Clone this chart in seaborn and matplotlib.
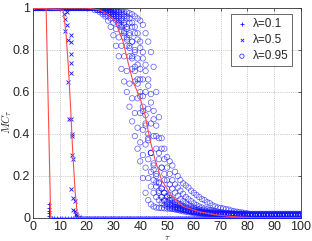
import matplotlib
matplotlib.use("Agg")
import matplotlib.pyplot as plt
import numpy as np
import pandas as pd
import seaborn as sns

# lambda = 0.1 ('+' markers)
plus_tau = [1, 2, 3, 4, 5, 6, 6, 6, 6, 6] + list(range(7, 101))
plus_mc = [1.0, 1.0, 1.0, 1.0, 1.0, 0.065, 0.05, 0.035, 0.025, 0.01] + [0.0] * 94

# lambda = 0.5 ('x' markers)
cross_tau = list(range(1, 11)) + [
    11, 11.5, 12, 12.5, 12.5, 12, 13, 14, 14, 14, 14, 14, 13, 13.5, 14,
    14.5, 14.5, 14.5, 15, 14, 15, 15.5, 15, 15.5, 16, 16, 16.5, 17,
] + list(range(17, 101))
cross_mc = [1.0] * 10 + [
    1.0, 0.97, 0.95, 0.98, 0.92, 0.89, 0.85, 0.87, 0.84, 0.78, 0.74, 0.69, 0.65, 0.47, 0.47,
    0.40, 0.39, 0.30, 0.28, 0.14, 0.095, 0.08, 0.04, 0.035, 0.02, 0.015, 0.01, 0.005,
] + [0.0] * 84

# lambda = 0.95 ('o' markers), ten trials, values for tau = 22..80
circ_trials = [
    [1.0, 0.99, 0.99, 0.98, 0.97, 0.96, 0.94, 0.91, 0.87, 0.82,
     0.77, 0.71, 0.65, 0.60, 0.53, 0.46, 0.39, 0.33, 0.27, 0.19,
     0.12, 0.085, 0.065, 0.055, 0.05, 0.048, 0.047, 0.046, 0.045, 0.044,
     0.043, 0.042, 0.041, 0.04, 0.038, 0.036, 0.034, 0.032, 0.03, 0.029,
     0.028, 0.027, 0.026, 0.025, 0.024, 0.023, 0.022, 0.021, 0.02, 0.02,
     0.019, 0.019, 0.018, 0.018, 0.017, 0.017, 0.016, 0.016, 0.015],
    [1.0, 1.0, 0.99, 0.99, 0.98, 0.97, 0.96, 0.95, 0.93, 0.90,
     0.86, 0.82, 0.77, 0.70, 0.64, 0.57, 0.50, 0.43, 0.36, 0.30,
     0.24, 0.19, 0.15, 0.12, 0.10, 0.085, 0.072, 0.062, 0.055, 0.05,
     0.045, 0.041, 0.038, 0.035, 0.032, 0.03, 0.028, 0.026, 0.024, 0.022,
     0.021, 0.02, 0.019, 0.018, 0.017, 0.016, 0.015, 0.015, 0.014, 0.014,
     0.013, 0.013, 0.012, 0.012, 0.012, 0.011, 0.011, 0.011, 0.01],
    [1.0, 1.0, 1.0, 0.99, 0.99, 0.98, 0.98, 0.97, 0.96, 0.94,
     0.92, 0.89, 0.86, 0.82, 0.77, 0.71, 0.65, 0.57, 0.50, 0.42,
     0.35, 0.28, 0.22, 0.18, 0.15, 0.12, 0.10, 0.085, 0.075, 0.065,
     0.058, 0.052, 0.047, 0.043, 0.04, 0.037, 0.034, 0.031, 0.029, 0.027,
     0.025, 0.024, 0.023, 0.022, 0.021, 0.02, 0.019, 0.018, 0.018, 0.017,
     0.017, 0.016, 0.016, 0.015, 0.015, 0.015, 0.014, 0.014, 0.014],
    [1.0, 1.0, 1.0, 1.0, 0.99, 0.99, 0.98, 0.97, 0.96, 0.95,
     0.93, 0.91, 0.88, 0.85, 0.81, 0.76, 0.70, 0.64, 0.58, 0.51,
     0.44, 0.37, 0.31, 0.26, 0.21, 0.17, 0.14, 0.12, 0.10, 0.085,
     0.072, 0.062, 0.054, 0.047, 0.042, 0.038, 0.034, 0.031, 0.028, 0.026,
     0.024, 0.022, 0.021, 0.02, 0.019, 0.018, 0.017, 0.016, 0.016, 0.015,
     0.015, 0.014, 0.014, 0.013, 0.013, 0.013, 0.012, 0.012, 0.012],
    [1.0, 1.0, 1.0, 1.0, 1.0, 0.99, 0.99, 0.98, 0.98, 0.97,
     0.96, 0.95, 0.93, 0.91, 0.88, 0.84, 0.79, 0.73, 0.66, 0.58,
     0.49, 0.40, 0.31, 0.23, 0.17, 0.13, 0.10, 0.08, 0.068, 0.06,
     0.055, 0.05, 0.047, 0.044, 0.041, 0.038, 0.035, 0.032, 0.03, 0.028,
     0.026, 0.025, 0.024, 0.023, 0.022, 0.021, 0.02, 0.02, 0.019, 0.019,
     0.018, 0.018, 0.017, 0.017, 0.016, 0.016, 0.016, 0.015, 0.015],
    [1.0, 1.0, 1.0, 0.99, 0.99, 0.99, 0.98, 0.98, 0.97, 0.96,
     0.95, 0.94, 0.92, 0.90, 0.87, 0.84, 0.80, 0.76, 0.71, 0.66,
     0.60, 0.52, 0.45, 0.39, 0.33, 0.28, 0.24, 0.21, 0.18, 0.16,
     0.14, 0.12, 0.105, 0.09, 0.08, 0.07, 0.062, 0.055, 0.05, 0.045,
     0.041, 0.038, 0.035, 0.032, 0.03, 0.028, 0.026, 0.025, 0.024, 0.023,
     0.022, 0.021, 0.02, 0.02, 0.019, 0.019, 0.018, 0.018, 0.017],
    [1.0, 1.0, 1.0, 1.0, 1.0, 1.0, 0.99, 0.99, 0.99, 0.98,
     0.98, 0.97, 0.96, 0.95, 0.93, 0.91, 0.88, 0.85, 0.81, 0.76,
     0.70, 0.63, 0.55, 0.47, 0.39, 0.31, 0.24, 0.18, 0.14, 0.11,
     0.09, 0.075, 0.064, 0.056, 0.05, 0.045, 0.041, 0.037, 0.034, 0.031,
     0.029, 0.027, 0.025, 0.024, 0.023, 0.022, 0.021, 0.02, 0.02, 0.019,
     0.019, 0.018, 0.018, 0.017, 0.017, 0.017, 0.016, 0.016, 0.016],
    [1.0, 1.0, 1.0, 1.0, 1.0, 1.0, 1.0, 0.99, 0.99, 0.99,
     0.98, 0.98, 0.97, 0.96, 0.95, 0.93, 0.91, 0.88, 0.84, 0.79,
     0.73, 0.66, 0.59, 0.51, 0.44, 0.38, 0.33, 0.28, 0.24, 0.21,
     0.18, 0.16, 0.145, 0.13, 0.115, 0.10, 0.09, 0.08, 0.07, 0.062,
     0.055, 0.05, 0.045, 0.041, 0.038, 0.035, 0.032, 0.03, 0.028, 0.026,
     0.025, 0.024, 0.023, 0.022, 0.021, 0.02, 0.02, 0.019, 0.019],
    [1.0, 1.0, 1.0, 1.0, 1.0, 1.0, 1.0, 1.0, 1.0, 0.99,
     0.99, 0.99, 0.98, 0.98, 0.975, 0.97, 0.96, 0.95, 0.94, 0.92,
     0.88, 0.84, 0.79, 0.72, 0.60, 0.48, 0.38, 0.33, 0.29, 0.27,
     0.25, 0.22, 0.20, 0.18, 0.165, 0.155, 0.145, 0.13, 0.12, 0.11,
     0.10, 0.09, 0.085, 0.075, 0.07, 0.06, 0.055, 0.05, 0.048, 0.045,
     0.042, 0.04, 0.035, 0.032, 0.03, 0.028, 0.026, 0.024, 0.022],
    [1.0, 1.0, 1.0, 1.0, 0.99, 0.99, 0.99, 0.98, 0.97, 0.96,
     0.94, 0.92, 0.89, 0.86, 0.82, 0.77, 0.72, 0.66, 0.60, 0.53,
     0.45, 0.38, 0.31, 0.25, 0.2, 0.165, 0.14, 0.12, 0.105, 0.095,
     0.085, 0.077, 0.07, 0.064, 0.058, 0.053, 0.048, 0.044, 0.04, 0.037,
     0.034, 0.031, 0.029, 0.027, 0.025, 0.023, 0.022, 0.021, 0.02, 0.019,
     0.018, 0.018, 0.017, 0.017, 0.016, 0.016, 0.015, 0.015, 0.015],
]
circ_tails = [0.014, 0.01, 0.013, 0.011, 0.014, 0.016, 0.015, 0.018, 0.02, 0.014]

# fitted curves (red)
fit01_tau = [0, 4.9, 6.6, 100]
fit01_mc = [1.0, 1.0, 0.0, 0.0]
fit05_tau = [0, 11.3, 12.3, 13.2, 14.1, 14.8, 15.7, 16.5, 17.5, 100]
fit05_mc = [1.0, 0.99, 0.88, 0.72, 0.51, 0.32, 0.13, 0.02, 0.0, 0.0]
fit095_tau = [0, 20, 25, 28, 30.6, 33.6, 35.5, 37.3, 40, 41.8, 43.7, 45.5,
              48, 52, 56, 62, 68, 76, 85, 100]
fit095_mc = [1.0, 1.0, 0.99, 0.97, 0.94, 0.84, 0.74, 0.65, 0.57, 0.49, 0.37, 0.28,
             0.18, 0.10, 0.055, 0.03, 0.015, 0.005, 0.0, 0.0]

sns.set_style("white")
plt.rcParams["font.family"] = ["Liberation Sans", "DejaVu Sans"]
plt.rcParams["mathtext.fontset"] = "cm"

circ_tau, circ_mc = [], []
for vals, tail in zip(circ_trials, circ_tails):
    circ_tau += list(range(1, 101))
    circ_mc += [1.0] * 21 + vals + [tail] * 20
df_circ = pd.DataFrame({"tau": circ_tau, "mc": circ_mc})

fig = plt.figure(figsize=(3.12, 2.41), dpi=100)
ax = fig.add_axes([33 / 312, 23 / 241, 268 / 312, 210 / 241])

blue = "#1414ff"
sns.scatterplot(x=plus_tau, y=plus_mc, marker="+", s=12, color=blue,
                linewidth=0.6, label="λ=0.1", ax=ax, zorder=3)
sns.scatterplot(x=cross_tau, y=cross_mc, marker="x", s=8, color=blue,
                linewidth=0.6, label="λ=0.5", ax=ax, zorder=3)
sns.scatterplot(data=df_circ, x="tau", y="mc", marker="o", s=15, color=blue,
                facecolor="none", edgecolor=blue, linewidth=0.5, alpha=0.7,
                label="λ=0.95", ax=ax, zorder=2)

red = "#ff4a4a"
for ft, fm in [(fit01_tau, fit01_mc), (fit05_tau, fit05_mc), (fit095_tau, fit095_mc)]:
    sns.lineplot(x=ft, y=fm, color=red, linewidth=0.8, ax=ax, zorder=4,
                 estimator=None, sort=False)

ax.set_xlim(0, 100)
ax.set_ylim(0, 1)
ax.set_xticks(np.arange(0, 101, 10))
ax.set_yticks([0, 0.2, 0.4, 0.6, 0.8, 1])
ax.set_yticklabels(["0", "0.2", "0.4", "0.6", "0.8", "1"])
ax.tick_params(direction="in", top=True, right=True, length=2.5, width=0.5,
               labelsize=9, pad=2)
ax.grid(True, linestyle=":", linewidth=0.5, color="#a0a0a0")
for sp in ax.spines.values():
    sp.set_linewidth(0.6)
    sp.set_color("#333333")

ax.set_xlabel(r"$\tau$", fontsize=7)
ax.xaxis.set_label_coords(0.5, -0.065)
ax.set_ylabel(r"$MC_\tau$", fontsize=8)
ax.yaxis.set_label_coords(-0.07, 0.46)

leg = ax.legend(loc="upper right", bbox_to_anchor=(0.99, 1.0), fontsize=8.5,
                frameon=True, fancybox=False, handletextpad=0.3,
                borderpad=0.35, labelspacing=0.35, handlelength=1.2,
                markerscale=0.8)
leg.get_frame().set_edgecolor("#222222")
leg.get_frame().set_linewidth(0.6)
for h in leg.legend_handles:
    h.set_alpha(1)

fig.savefig("out.png", dpi=100)
